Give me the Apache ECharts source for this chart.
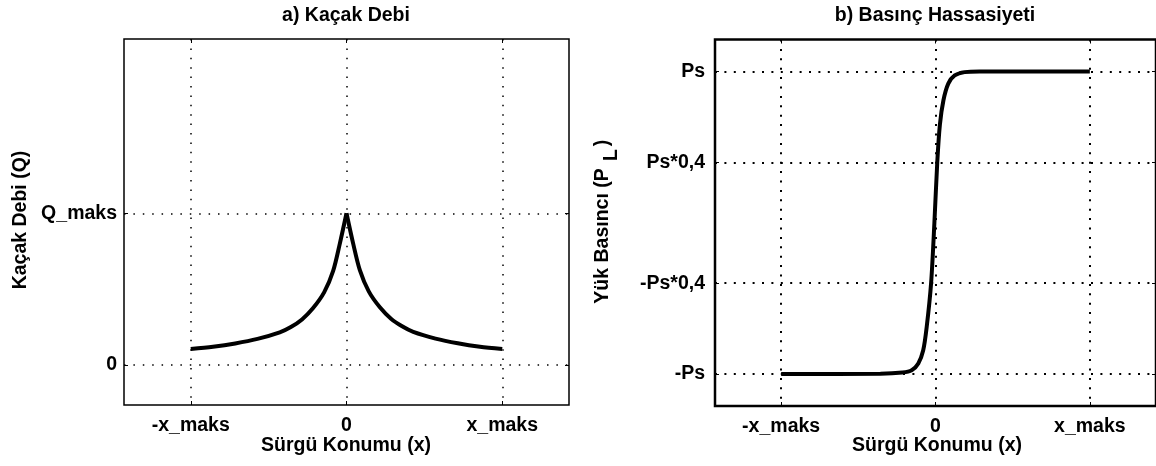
<!DOCTYPE html>
<html>
<head>
<meta charset="utf-8">
<script src="https://cdn.jsdelivr.net/npm/echarts@6/dist/echarts.min.js"></script>
<style>
  html, body { margin: 0; padding: 0; background: #fff; }
  #chart { width: 1156px; height: 466px; }
</style>
</head>
<body>
<div id="chart"></div>
<script>
// Slide position axis (shared by both panels); x_maks = 0.7 on a [-1, 1] scale
const xTickValues = [-0.7, 0, 0.7];
const xTickLabels = ['-x_maks', '0', 'x_maks'];

// a) Leakage flow vs. spool position (Q_maks = 1)
const qTickValues = [0, 1];
const qTickLabels = ['0', 'Q_maks'];
const leakX = [-0.7, -0.6, -0.5, -0.4, -0.3, -0.25, -0.2, -0.15, -0.1, -0.06, -0.03, 0,
               0.03, 0.06, 0.1, 0.15, 0.2, 0.25, 0.3, 0.4, 0.5, 0.6, 0.7];
const leakQ = [0.105, 0.12, 0.142, 0.172, 0.215, 0.25, 0.30, 0.375, 0.48, 0.62, 0.80, 1.0,
               0.80, 0.625, 0.485, 0.38, 0.305, 0.255, 0.218, 0.174, 0.143, 0.12, 0.105];

// b) Load pressure vs. spool position (Ps = 1)
const pTickValues = [-1, -0.4, 0.4, 1];
const pTickLabels = ['-Ps', '-Ps*0,4', 'Ps*0,4', 'Ps'];
const pressX = [-0.7, -0.25, -0.15, -0.108, -0.078, -0.056, -0.04, -0.02, -0.005,
                0.008, 0.02, 0.036, 0.058, 0.087, 0.132, 0.2, 0.7];
const pressP = [-1, -0.998, -0.99, -0.975, -0.93, -0.845, -0.69, -0.4, 0,
                0.4, 0.65, 0.81, 0.92, 0.974, 0.996, 1, 1];

const FONT = '"Liberation Sans", Arial, sans-serif';
const FS = 19.5;

function labeler(values, labels) {
  return function (v) {
    const i = values.findIndex(t => Math.abs(t - v) < 1e-6);
    return i >= 0 ? labels[i] : '';
  };
}

const labelStyle = { color: '#000', fontFamily: FONT, fontSize: FS, fontWeight: 'bold' };
const noLine = { show: false, onZero: false };

function xAxes(gridIndex, min, max, dot, dotW) {
  return [
    {
      type: 'value', gridIndex, min, max, position: 'bottom',
      axisLine: noLine,
      axisTick: { show: true, inside: true, length: 4, customValues: xTickValues,
                  lineStyle: { color: '#000', width: 1 } },
      axisLabel: Object.assign({ show: true, margin: 11, customValues: xTickValues,
                  formatter: labeler(xTickValues, xTickLabels) }, labelStyle),
      splitLine: { show: true, lineStyle: { color: '#000', width: dotW, type: dot } }
    },
    {
      type: 'value', gridIndex, min, max, position: 'top',
      axisLine: noLine,
      axisTick: { show: true, inside: true, length: 4, customValues: xTickValues,
                  lineStyle: { color: '#000', width: 1 } },
      axisLabel: { show: false },
      splitLine: { show: false }
    }
  ];
}

function yAxes(gridIndex, min, max, vals, labs, margin, dot, dotW) {
  return [
    {
      type: 'value', gridIndex, min, max, position: 'left',
      axisLine: noLine,
      axisTick: { show: true, inside: true, length: 4, customValues: vals,
                  lineStyle: { color: '#000', width: 1 } },
      axisLabel: Object.assign({ show: true, margin, customValues: vals,
                  formatter: labeler(vals, labs) }, labelStyle),
      splitLine: { show: true, lineStyle: { color: '#000', width: dotW, type: dot } }
    },
    {
      type: 'value', gridIndex, min, max, position: 'right',
      axisLine: noLine,
      axisTick: { show: true, inside: true, length: 4, customValues: vals,
                  lineStyle: { color: '#000', width: 1 } },
      axisLabel: { show: false },
      splitLine: { show: false }
    }
  ];
}

function text(x, y, str, rot) {
  return {
    type: 'text', x, y, rotation: rot || 0, silent: true,
    style: {
      text: str, fill: '#000', font: 'bold ' + FS + 'px ' + FONT,
      align: 'center', verticalAlign: 'middle'
    }
  };
}

// the leakage curve is drawn as two smoothed halves so the peak stays sharp
const peak = leakQ.indexOf(Math.max(...leakQ));
const leakPairs = leakX.map((x, i) => [x, leakQ[i]]);
const curveStyle = { color: '#000', width: 4 };

const chart = echarts.init(document.getElementById('chart'), null, { renderer: 'canvas' });

chart.setOption({
  backgroundColor: '#fff',
  animation: false,
  grid: [
    { left: 124, top: 39, width: 445, height: 366, show: true,
      borderColor: '#000', borderWidth: 1.5, backgroundColor: 'transparent' },
    { left: 715, top: 39.5, width: 445, height: 366.5, show: true,
      borderColor: '#000', borderWidth: 2.5, backgroundColor: 'transparent' }
  ],
  xAxis: [
    ...xAxes(0, -1, 1, [1.5, 7.9], 1.5),
    ...xAxes(1, -1, 1, [2, 7.4], 2)
  ],
  yAxis: [
    ...yAxes(0, -0.264, 2.149, qTickValues, qTickLabels, 7, [1.5, 7.9], 1.5),
    ...yAxes(1, -1.2116, 1.2116, pTickValues, pTickLabels, 10, [2, 7.4], 2)
  ],
  series: [
    {
      type: 'line', xAxisIndex: 0, yAxisIndex: 0,
      data: leakPairs.slice(0, peak + 1),
      showSymbol: false, smooth: 0.3,
      lineStyle: curveStyle, z: 5
    },
    {
      type: 'line', xAxisIndex: 0, yAxisIndex: 0,
      data: leakPairs.slice(peak),
      showSymbol: false, smooth: 0.3,
      lineStyle: curveStyle, z: 5
    },
    {
      type: 'line', xAxisIndex: 2, yAxisIndex: 2,
      data: pressX.map((x, i) => [x, pressP[i]]),
      showSymbol: false, smooth: 0.3,
      lineStyle: curveStyle, z: 5
    }
  ],
  graphic: [
    // panel titles
    text(346, 16, 'a) Kaçak Debi'),
    text(935, 16, 'b) Basınç Hassasiyeti'),
    // x-axis titles
    text(346, 446, 'Sürgü Konumu (x)'),
    text(937, 446, 'Sürgü Konumu (x)'),
    // y-axis titles
    text(21, 220, 'Kaçak Debi (Q)', Math.PI / 2),
    text(603, 236, 'Yük Basıncı (P', Math.PI / 2),
    text(612, 155, 'L', Math.PI / 2),
    text(603, 143, ')', Math.PI / 2)
  ]
});
</script>
</body>
</html>
